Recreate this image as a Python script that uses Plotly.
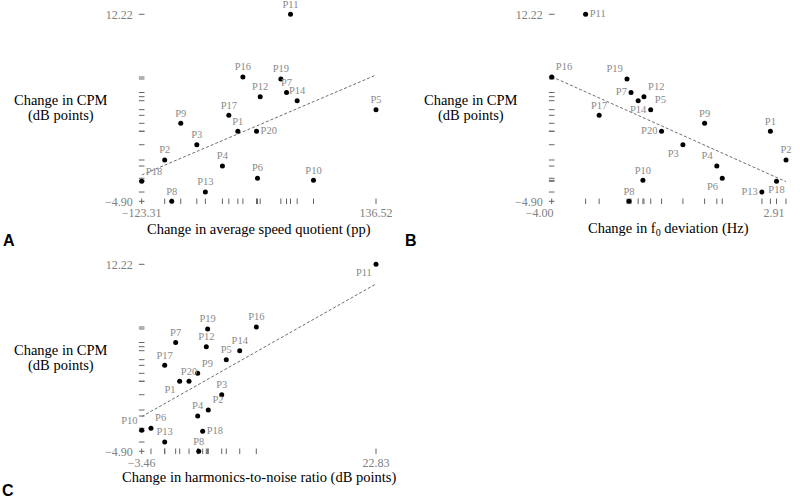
import plotly.graph_objects as go

participants = ["P1", "P2", "P3", "P4", "P5", "P6", "P7", "P8", "P9", "P10",
                "P11", "P12", "P13", "P14", "P16", "P17", "P18", "P19", "P20"]
cpm_change = [1.51, -1.12, 0.28, -1.67, 3.49, -2.79, 5.06, -4.90, 2.24, -2.98,
              12.22, 4.68, -4.05, 4.31, 6.48, 2.97, -3.07, 6.30, 1.51]
asq_change = [-16.7, -97.8, -62.2, -33.8, 136.52, 5.1, 37.3, -90.0, -80.0, 67.2,
              41.7, 8.1, -52.7, 49.1, -11.1, -26.7, -123.31, 31.0, 4.0]
f0dev_change = [2.45, 2.91, -0.13, 0.87, -1.08, 1.03, -1.66, -1.72, 0.51, -1.31,
                -3.00, -1.28, 2.20, -1.45, -4.00, -2.60, 2.63, -1.78, -0.76]
hnr_change = [0.80, 4.01, 5.52, 2.82, 6.03, -2.42, 0.35, 2.94, 2.82, -3.46,
              22.83, 3.79, -0.88, 7.54, 9.40, -0.88, 3.38, 3.94, 1.85]

# fitted trend line values (CPM) at the left and right ends of each x range
trend_asq = [-2.49, 6.66]
trend_f0dev = [6.51, -3.10]
trend_hnr = [-1.73, 10.42]

x_titles = ["Change in average speed quotient (pp)",
            "Change in f<sub>0</sub> deviation (Hz)",
            "Change in harmonics-to-noise ratio (dB points)"]
y_title_lines = ["Change in CPM", "(dB points)"]
panel_letters = ["A", "B", "C"]

# label placements (style)
pos_a = ["top center"] * 19
pos_a[participants.index("P20")] = "middle right"
pos_a[participants.index("P18")] = "top right"

pos_b = ["top center"] * 19
for k, v in {"P11": "middle right", "P16": "top right", "P19": "top left",
             "P7": "middle left", "P12": "top right", "P14": "bottom center",
             "P5": "top right", "P20": "middle left", "P3": "bottom left",
             "P4": "top left", "P6": "bottom left", "P18": "bottom center",
             "P13": "middle left"}.items():
    pos_b[participants.index(k)] = v

pos_c = ["top center"] * 19
for k, v in {"P11": "bottom left", "P9": "top right", "P1": "bottom left",
             "P2": "top right", "P18": "middle right", "P6": "top right",
             "P10": "top left"}.items():
    pos_c[participants.index(k)] = v

W, H = 800, 501
SERIF = "Liberation Serif"
GRAY = "#808080"

panels = [
    dict(x=asq_change, fit=trend_asq, pos=pos_a, xd=(141.7, 376.0), yd=(14.3, 201.3),
         shift=0, xt_off=28.0, letter_x=3),
    dict(x=f0dev_change, fit=trend_f0dev, pos=pos_b, xd=(551.7, 786.0), yd=(14.3, 201.3),
         shift=-12, xt_off=28.0, letter_x=405),
    dict(x=hnr_change, fit=trend_hnr, pos=pos_c, xd=(141.7, 376.0), yd=(264.3, 451.3),
         shift=0, xt_off=25.7, letter_x=2),
]

def fmt(v):
    s = f"{abs(v):.2f}"
    return ("\u2212" + s) if v < 0 else s

fig = go.Figure()
ymin, ymax = min(cpm_change), max(cpm_change)

for i, p in enumerate(panels):
    sfx = "" if i == 0 else str(i + 1)
    xa, ya = "x" + sfx, "y" + sfx
    xs = p["x"]
    xmin, xmax = min(xs), max(xs)
    # trend line
    fig.add_trace(go.Scatter(x=[xmin, xmax], y=p["fit"],
                             mode="lines", line=dict(color="#6e6e6e", width=1, dash="3px,2px"),
                             xaxis=xa, yaxis=ya, showlegend=False, hoverinfo="skip",
                             cliponaxis=False))
    # rugs
    fig.add_trace(go.Scatter(x=xs, y=[ymin] * len(xs), mode="markers",
                             marker=dict(symbol="line-ns", size=4, line=dict(width=1, color="#666")),
                             xaxis=xa, yaxis=ya, showlegend=False, hoverinfo="skip", cliponaxis=False))
    fig.add_trace(go.Scatter(x=[xmin] * len(xs), y=cpm_change, mode="markers",
                             marker=dict(symbol="line-ew", size=4, line=dict(width=1, color="#666")),
                             xaxis=xa, yaxis=ya, showlegend=False, hoverinfo="skip", cliponaxis=False))
    # points
    fig.add_trace(go.Scatter(x=xs, y=cpm_change, mode="markers+text", text=participants,
                             textposition=p["pos"],
                             textfont=dict(family=SERIF, size=10.5, color="#8a8a8a"),
                             marker=dict(color="black", size=5),
                             xaxis=xa, yaxis=ya, showlegend=False, cliponaxis=False))
    x0, x1 = p["xd"]
    y0, y1 = p["yd"]
    axis_common = dict(showgrid=False, zeroline=False, showline=False, ticks="",
                       automargin=False,
                       tickfont=dict(family=SERIF, size=12, color=GRAY))
    fig.layout["xaxis" + sfx] = dict(axis_common, domain=[x0 / W, x1 / W], range=[xmin, xmax],
                                     anchor=ya, tickvals=[xmin, xmax],
                                     ticktext=[fmt(xmin), fmt(xmax)], ticklabelstandoff=3,
                                     ticklabelshift=p["shift"])
    fig.layout["yaxis" + sfx] = dict(axis_common, domain=[(H - y1) / H, (H - y0) / H],
                                     range=[ymin, ymax], anchor=xa, tickvals=[ymin, ymax],
                                     ticktext=[fmt(ymin), fmt(ymax)],
                                     ticklabelstandoff=8)
    # axis titles
    fig.add_annotation(x=(x0 + x1) / 2 / W, y=1 - (y1 + p["xt_off"]) / H, xref="paper", yref="paper",
                       text=x_titles[i], showarrow=False, xanchor="center", yanchor="middle",
                       font=dict(family=SERIF, size=14.5, color="black"))
    for j, line in enumerate(y_title_lines):
        fig.add_annotation(x=(x0 - 80.5) / W, y=1 - (y0 + 85.5 + 15.5 * j) / H,
                           xref="paper", yref="paper",
                           text=line, showarrow=False, xanchor="center", yanchor="middle",
                           font=dict(family=SERIF, size=14.5, color="black"))
    fig.add_annotation(x=p["letter_x"] / W, y=1 - (y1 + 38.7) / H, xref="paper", yref="paper",
                       text="<b>" + panel_letters[i] + "</b>", showarrow=False,
                       xanchor="left", yanchor="middle", xshift=-2,
                       font=dict(family="Liberation Sans", size=16, color="black"))

fig.update_layout(width=W, height=H, margin=dict(l=0, r=0, t=0, b=0, pad=0),
                  plot_bgcolor="white", paper_bgcolor="white")
fig.write_html("out.html", config={"displayModeBar": False},
               post_script="document.body.style.margin='0px';")
